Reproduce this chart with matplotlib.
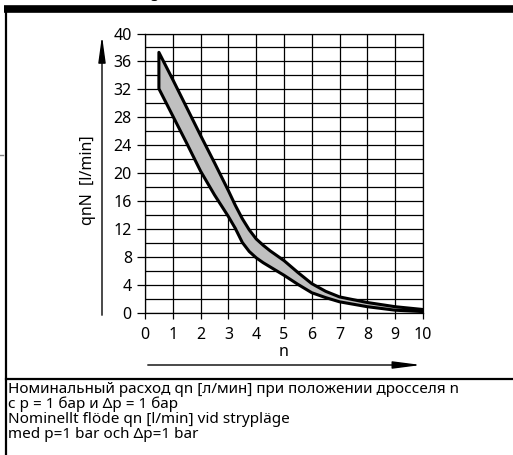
import numpy as np
import matplotlib.pyplot as plt

# stellungen der drossel n und nenndurchfluss qnN [l/min]
n = [0.5, 1, 1.5, 2, 2.5, 3, 3.25, 3.5, 3.75, 4, 4.25, 4.5, 5, 5.5, 6, 6.5, 7, 8, 9, 10]
q_oben = [37.3, 33.4, 29.4, 25.4, 21.5, 17.5, 15.4, 13.5, 11.9, 10.6, 9.7, 8.9,
          7.5, 5.8, 4.2, 3.1, 2.3, 1.5, 0.9, 0.5]
q_unten = [32.1, 28.2, 24.3, 20.3, 16.9, 13.8, 12.1, 10.1, 8.8, 7.9, 7.2, 6.6,
           5.4, 4.1, 2.9, 2.2, 1.6, 0.9, 0.4, 0.2]

x_ticks = list(range(0, 11))
y_ticks = list(range(0, 41, 4))
y_minor = list(range(2, 41, 4))

text_ru = ["Номинальный расход qn [л/мин] при положении дросселя n",
           "с p = 1 бар и Δp = 1 бар"]
text_sv = ["Nominellt flöde qn [l/min] vid strypläge",
           "med p=1 bar och Δp=1 bar"]

W, H = 513, 455
plt.rcParams["font.family"] = ["Noto Sans", "DejaVu Sans"]
fig = plt.figure(figsize=(W / 100, H / 100), dpi=100)

# rahmen in pixelkoordinaten
bg = fig.add_axes([0, 0, 1, 1], zorder=0)
bg.set_xlim(0, W)
bg.set_ylim(H, 0)
bg.axis("off")
bg.plot([4, W], [9, 9], color="black", lw=5.5, solid_capstyle="butt")
bg.plot([6, 6], [9, H], color="black", lw=1.6)
bg.plot([6, W], [379, 379], color="black", lw=1.6)
bg.plot([0, 3], [155, 155], color="gray", lw=1)
bg.annotate("", xy=(102, 33), xytext=(102, 318),
            arrowprops=dict(arrowstyle="-|>,head_length=1.6,head_width=0.22",
                            mutation_scale=10, lw=1, color="black"))
bg.annotate("", xy=(424, 365), xytext=(145, 365),
            arrowprops=dict(arrowstyle="-|>,head_length=1.7,head_width=0.22",
                            mutation_scale=10, lw=1, color="black"))

# abgeschnittener titel oben
fig.text(160 / W, 1 + 3 / H, "Drosselung", ha="right", va="baseline",
         fontsize=11, fontweight="bold")
fig.text(266 / W, 1 + 3 / H, "(n)", ha="left", va="baseline",
         fontsize=11, fontweight="bold")

ax = fig.add_axes([145 / W, 1 - 313 / H, 278 / W, 279.5 / H], zorder=1)
ax.set_xlim(0, 10)
ax.set_ylim(0, 40)
ax.set_xticks(x_ticks)
ax.set_yticks(y_ticks)
ax.set_yticks(y_minor, minor=True)
ax.grid(True, which="both", color="black", lw=0.9)
ax.tick_params(axis="both", which="major", direction="out", length=5.5,
               width=0.9, labelsize=11.5, pad=4)
ax.tick_params(axis="x", length=4, pad=6)
ax.tick_params(axis="y", which="minor", length=0)
for s in ax.spines.values():
    s.set_linewidth(0.9)

x_band = n + n[::-1]
y_band = q_oben + q_unten[::-1]
ax.fill(x_band, y_band, facecolor="#c0c0c0", edgecolor="black", lw=2.2,
        joinstyle="round", zorder=3)

fig.text(88 / W, 1 - 180 / H, "qnN  [l/min]", rotation=90, ha="center",
         va="center", fontsize=11.5)
fig.text(284 / W, 1 - 352 / H, "n", ha="center", va="center", fontsize=11.5)

lines = text_ru + text_sv
for i, line in enumerate(lines):
    fig.text(8 / W, 1 - (393 + 15 * i) / H, line, ha="left", va="baseline",
             fontsize=11)

fig.savefig("out.png", dpi=100)
